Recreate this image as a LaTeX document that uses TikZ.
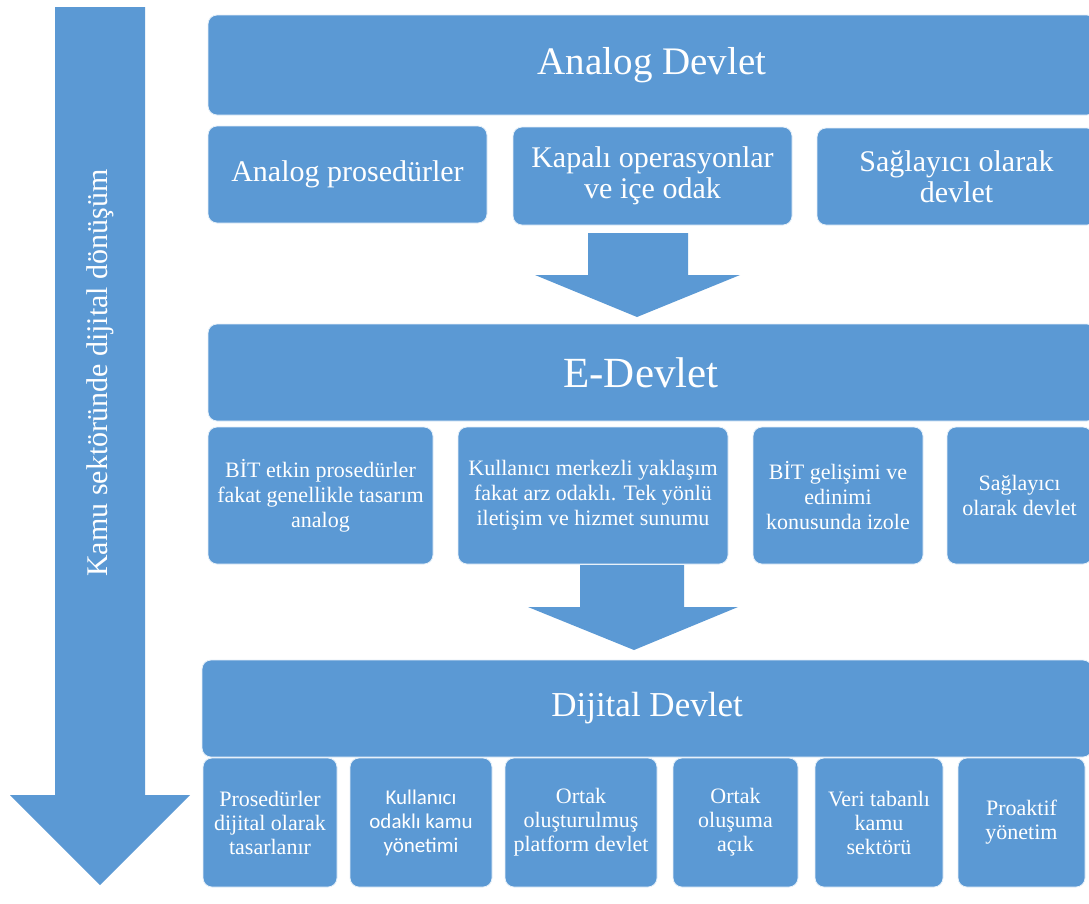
\documentclass[tikz,border=0pt]{standalone}
\usepackage{fontspec}
\setmainfont{Liberation Serif}
\newfontfamily\calfont{Carlito}
\definecolor{boxblue}{RGB}{91,153,212}
\tikzset{
  box/.style={fill=boxblue, draw=white!85!boxblue, line width=0.8pt, rounded corners=9pt,
    text=white, align=center, inner sep=0pt},
  titlebox/.style={box, font=\fontsize{39}{41}\selectfont},
  titletext/.style={text=white, inner sep=0pt},
  rowone/.style={box, font=\fontsize{30}{31}\selectfont},
  rowtwo/.style={box, font=\fontsize{22}{25}\selectfont},
  rowthree/.style={box, font=\fontsize{22}{24}\selectfont},
  blockarrow/.style={fill=boxblue, draw=none}
}
\begin{document}
\begin{tikzpicture}[x=1pt,y=-1pt]
\useasboundingbox (0,0) rectangle (1089,903);
\clip (0,0) rectangle (1089,903);
\fill[white] (0,0) rectangle (1089,903);

% big left arrow
\fill[blockarrow] (55,7) -- (145,7) -- (145,795) -- (190,795) -- (100,885) -- (10,795) -- (55,795) -- cycle;
\node[rotate=90, text=white, font=\fontsize{30}{32}\selectfont] (side) at (100,373) {Kamu sektöründe dijital dönüşüm};

% Analog Devlet
\node[titlebox, minimum width=888, minimum height=100] (analog) at (652,65) {Analog Devlet};
\node[rowone, minimum width=279, minimum height=97] (a1) at (347.5,174.5) {Analog prosedürler};
\node[rowone, minimum width=279, minimum height=98] (a2) at (652.5,176) {Kapalı operasyonlar\\ve içe odak};
\node[rowone, minimum width=279, minimum height=97] (a3) at (956.5,176.5) {Sağlayıcı olarak\\devlet};

% arrow 1
\fill[blockarrow] (588,233) -- (688,233) -- (688,275) -- (740,275) -- (637,317) -- (535,275) -- (588,275) -- cycle;

% E-Devlet
\node[box, minimum width=888, minimum height=97] (edev) at (652,372.5) {};
\node[titletext, font=\fontsize{43}{45}\selectfont] (edevtext) at (641,373) {E-Devlet};
\node[rowtwo, minimum width=225, minimum height=137] (e1) at (320.5,495.5) {BİT etkin prosedürler\\fakat genellikle tasarım\\analog};
\node[rowtwo, minimum width=270, minimum height=137] (e2) at (593,495.5) {Kullanıcı merkezli yaklaşım\\fakat arz odaklı. Tek yönlü\\iletişim ve hizmet sunumu};
\node[rowtwo, minimum width=170, minimum height=137] (e3) at (838,495.5) {BİT gelişimi ve\\edinimi\\konusunda izole};
\node[rowtwo, minimum width=145, minimum height=137] (e4) at (1019.5,495.5) {Sağlayıcı\\olarak devlet};

% arrow 2
\fill[blockarrow] (580,565) -- (684,565) -- (684,607) -- (738,607) -- (634,650) -- (528,607) -- (580,607) -- cycle;

% Dijital Devlet
\node[titlebox, font=\fontsize{35}{37}\selectfont, minimum width=890, minimum height=97] (ddev) at (647,708.5) {Dijital Devlet};
\node[rowthree, minimum width=134, minimum height=129] (d1) at (270,822.5) {Prosedürler\\dijital olarak\\tasarlanır};
\node[rowthree, font=\calfont\fontsize{21}{24}\selectfont, minimum width=142, minimum height=129] (d2) at (421,822.5) {Kullanıcı\\odaklı kamu\\yönetimi};
\node[rowthree, minimum width=152, minimum height=129] (d3) at (581,822.5) {Ortak\\oluşturulmuş\\platform devlet};
\node[rowthree, minimum width=125, minimum height=129] (d4) at (735.5,822.5) {Ortak\\oluşuma\\açık};
\node[rowthree, minimum width=128, minimum height=129] (d5) at (879,822.5) {Veri tabanlı\\kamu\\sektörü};
\node[rowthree, minimum width=127, minimum height=129] (d6) at (1021.5,822.5) {Proaktif\\yönetim};
\end{tikzpicture}
\end{document}
